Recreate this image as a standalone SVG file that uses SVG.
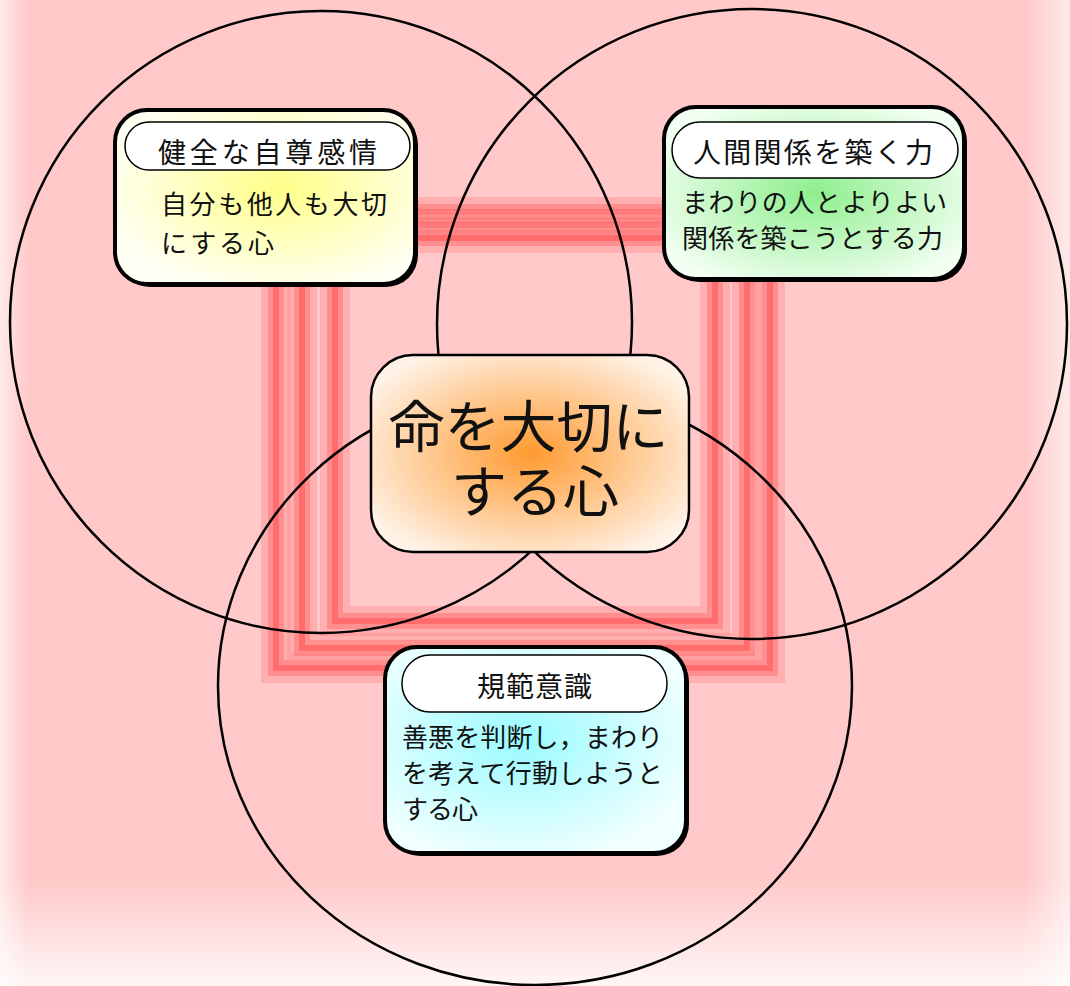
<svg xmlns="http://www.w3.org/2000/svg" width="1070" height="986" viewBox="0 0 1070 986">
<defs>
<linearGradient id="fadeL" x1="0" y1="0" x2="1" y2="0"><stop offset="0" stop-color="#fff" stop-opacity="0.6"/><stop offset="1" stop-color="#fff" stop-opacity="0"/></linearGradient>
<linearGradient id="fadeR" x1="1" y1="0" x2="0" y2="0"><stop offset="0" stop-color="#fff" stop-opacity="0.6"/><stop offset="1" stop-color="#fff" stop-opacity="0"/></linearGradient>
<linearGradient id="fadeB" x1="0" y1="1" x2="0" y2="0"><stop offset="0" stop-color="#fff" stop-opacity="0.85"/><stop offset="1" stop-color="#fff" stop-opacity="0"/></linearGradient>
<radialGradient id="gy" cx="0.55" cy="0.45" r="0.6"><stop offset="0" stop-color="#ffff88"/><stop offset="1" stop-color="#fffff4"/></radialGradient>
<radialGradient id="gg" cx="0.5" cy="0.5" r="0.6"><stop offset="0" stop-color="#8def8d"/><stop offset="1" stop-color="#f4fff4"/></radialGradient>
<radialGradient id="gc" cx="0.45" cy="0.45" r="0.6"><stop offset="0" stop-color="#99fbff"/><stop offset="1" stop-color="#f0ffff"/></radialGradient>
<radialGradient id="go" cx="0.5" cy="0.5" r="0.6"><stop offset="0" stop-color="#ff9a30"/><stop offset="1" stop-color="#fff3e8"/></radialGradient>
<style>
.band1{fill:none;stroke:#ff9090;stroke-width:30;opacity:0.45}
.band2{fill:none;stroke:#ff7373;stroke-width:16;opacity:0.55}
.band3{fill:none;stroke:#ff5c5c;stroke-width:6;opacity:0.65}
.ring{fill:none;stroke:#000;stroke-width:2.5}
.shadow{fill:#000}
.box{stroke:#000;stroke-width:4}
.pill{fill:#fff;stroke:#000;stroke-width:1.5}
.t{font-family:"Noto Sans CJK JP","Noto Sans",sans-serif;fill:#111}
.title{font-size:28px;text-anchor:middle}
.body{font-size:26px}
.big{font-size:56px;text-anchor:middle}
</style>
</defs>
<rect width="1070" height="986" fill="#ffc9c9"/>
<rect x="0" y="0" width="28" height="986" fill="url(#fadeL)"/>
<rect x="1025" y="0" width="45" height="986" fill="url(#fadeR)"/>
<rect x="0" y="880" width="1070" height="106" fill="url(#fadeB)"/>
<g id="frame">
<rect class="band1" x="276" y="212" width="494" height="456"/>
<rect class="band2" x="276" y="212" width="494" height="456"/>
<rect class="band3" x="276" y="212" width="494" height="456"/>
<rect class="band1" x="302" y="225" width="445" height="423"/>
<rect class="band2" x="302" y="225" width="445" height="423"/>
<rect class="band3" x="302" y="225" width="445" height="423"/>
<rect class="band1" x="335" y="238" width="380" height="383"/>
<rect class="band2" x="335" y="238" width="380" height="383"/>
<rect class="band3" x="335" y="238" width="380" height="383"/>
</g>
<g id="circles">
<circle class="ring" cx="321" cy="322" r="311"/>
<circle class="ring" cx="752" cy="324" r="315"/>
<ellipse class="ring" cx="535" cy="686" rx="317" ry="299"/>
</g>
<g id="node-self-esteem">
<rect class="shadow" x="118" y="113" width="300" height="174" rx="32"/>
<rect class="box" x="115" y="110" width="300" height="174" rx="32" fill="url(#gy)"/>
<rect class="pill" x="125" y="122" width="285" height="48" rx="24"/>
<text class="t title" x="267.5" y="163" textLength="219" lengthAdjust="spacing">健全な自尊感情</text>
<text class="t body" x="161" y="214" textLength="226" lengthAdjust="spacing">自分も他人も大切</text>
<text class="t body" x="161" y="253" textLength="113" lengthAdjust="spacing">にする心</text>
</g>
<g id="node-relations">
<rect class="shadow" x="667" y="110" width="300" height="172" rx="32"/>
<rect class="box" x="664" y="107" width="300" height="172" rx="32" fill="url(#gg)"/>
<rect class="pill" x="672" y="122" width="286" height="56" rx="28"/>
<text class="t title" x="813" y="163" textLength="240" lengthAdjust="spacing">人間関係を築く力</text>
<text class="t body" x="682" y="212" textLength="265" lengthAdjust="spacing">まわりの人とよりよい</text>
<text class="t body" x="682" y="248" textLength="261" lengthAdjust="spacing">関係を築こうとする力</text>
</g>
<g id="node-center">
<rect x="371" y="355" width="318" height="197" rx="42" fill="url(#go)" stroke="#000" stroke-width="2.5"/>
<text class="t big"><tspan x="528.5" y="447">命を大切に</tspan><tspan x="535" y="512">する心</tspan></text>
</g>
<g id="node-norms">
<rect class="shadow" x="388" y="650" width="301" height="206" rx="32"/>
<rect class="box" x="385" y="647" width="301" height="206" rx="32" fill="url(#gc)"/>
<rect class="pill" x="402" y="655" width="265" height="57" rx="28"/>
<text class="t title" x="534.5" y="697" textLength="115" lengthAdjust="spacing">規範意識</text>
<text class="t body" x="402" y="747" textLength="261" lengthAdjust="spacing">善悪を判断し，まわり</text>
<text class="t body" x="402" y="783" textLength="261" lengthAdjust="spacing">を考えて行動しようと</text>
<text class="t body" x="402" y="819" textLength="76" lengthAdjust="spacing">する心</text>
</g>
</svg>
